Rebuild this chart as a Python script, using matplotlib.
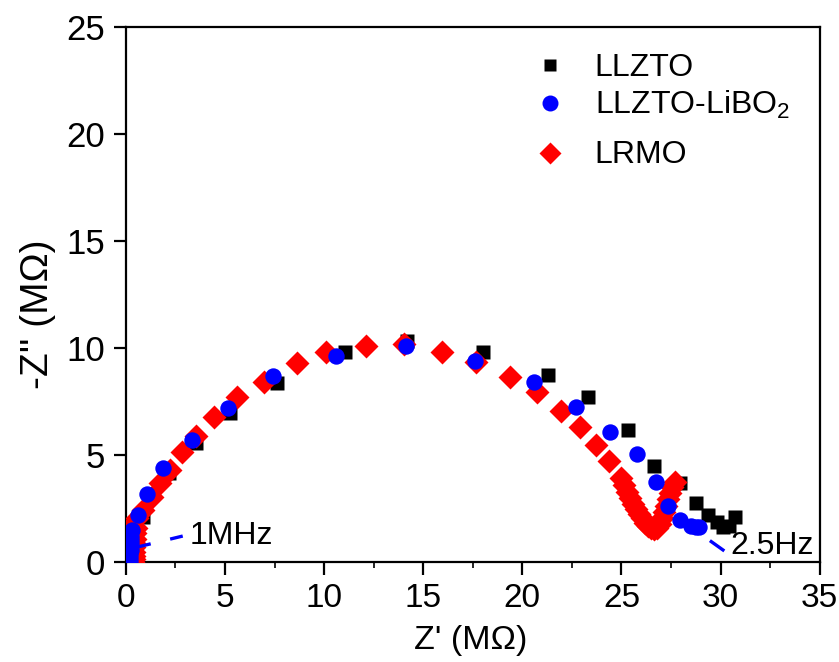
import matplotlib
matplotlib.use("Agg")
import matplotlib.pyplot as plt

plt.rcParams['font.family'] = ['Liberation Sans', 'DejaVu Sans']
plt.rcParams['mathtext.fontset'] = 'custom'
plt.rcParams['mathtext.rm'] = 'Liberation Sans'
plt.rcParams['mathtext.it'] = 'Liberation Sans'

# ---- data (Z' in MOhm, -Z'' in MOhm) ----
llzto_x = [0.2, 0.25, 0.5, 0.85, 2.17, 3.53, 5.24, 7.6, 11.04, 14.19, 18.02, 21.3,
           23.31, 25.33, 26.64, 27.97, 28.78, 29.36, 29.8, 30.1, 30.42, 30.71]
llzto_y = [0.1, 0.6, 1.35, 2.1, 4.18, 5.58, 7.0, 8.37, 9.85, 10.36, 9.85, 8.76,
           7.74, 6.19, 4.5, 3.7, 2.76, 2.2, 1.88, 1.67, 1.68, 2.1]

libo_x = [0.22, 0.22, 0.23, 0.24, 0.25, 0.26, 0.27, 0.29, 0.59, 1.09, 1.88, 3.33, 5.13,
          7.43, 10.6, 14.15, 17.6, 20.57, 22.7, 24.44, 25.79, 26.73, 27.35, 27.95,
          28.5, 28.75, 28.9]
libo_y = [0.03, 0.2, 0.4, 0.6, 0.8, 1.0, 1.2, 1.5, 2.22, 3.2, 4.4, 5.72, 7.23,
          8.73, 9.65, 10.13, 9.43, 8.45, 7.25, 6.11, 5.07, 3.77, 2.64, 1.97,
          1.68, 1.64, 1.65]

lrmo_x = [0.38, 0.39, 0.4, 0.41, 0.42, 0.43, 0.45, 0.3, 0.48, 0.52, 0.54, 0.87, 1.3,
          1.71, 2.22, 2.81, 3.53, 4.44, 5.63, 6.98, 8.64, 10.12, 12.1, 14.02, 15.95,
          17.68, 19.36, 20.76, 21.96, 22.9, 23.7, 24.37, 25.0, 25.15, 25.3, 25.45,
          25.6, 25.75, 25.9, 26.05, 26.2, 26.35, 26.5, 26.65, 26.8, 26.95, 27.05,
          27.15, 27.25, 27.35, 27.45, 27.55, 27.7]
lrmo_y = [0.03, 0.15, 0.3, 0.5, 0.7, 0.9, 1.1, 1.75, 1.35, 1.6, 2.06, 2.45, 3.07,
          3.7, 4.32, 5.17, 5.91, 6.78, 7.74, 8.45, 9.3, 9.85, 10.11, 10.2, 9.85,
          9.35, 8.68, 7.98, 7.09, 6.34, 5.49, 4.74, 3.95, 3.6, 3.3, 3.0,
          2.75, 2.5, 2.25, 2.05, 1.85, 1.7, 1.6, 1.55, 1.6, 1.8, 2.05,
          2.35, 2.65, 2.95, 3.25, 3.5, 3.75]

labels = ['LLZTO', 'LLZTO-LiBO$_2$', 'LRMO']
xticks = [0, 5, 10, 15, 20, 25, 30, 35]
yticks = [0, 5, 10, 15, 20, 25]

fig = plt.figure(figsize=(8.39, 6.62), dpi=100)
ax = fig.add_axes([0.150, 0.1505, 0.827, 0.8083])

ax.plot(llzto_x, llzto_y, 's', color='black', ms=10.3, mec='none', zorder=2)
ax.plot(lrmo_x, lrmo_y, 'D', color='#ff0000', ms=12.5, mec='none', zorder=3)
ax.plot(libo_x, libo_y, 'o', color='#0000ff', ms=11.8, mec='none', zorder=4)

# frequency annotations
ax.plot([0.6, 2.87], [0.72, 1.23], color='#0000ff', lw=2.4, dashes=(4, 6), zorder=5)
ax.text(3.2, 1.22, '1MHz', fontsize=23, va='center', ha='left')
ax.plot([29.53, 30.12], [0.97, 0.58], color='#0000ff', lw=2.4, zorder=5)
ax.text(30.5, 0.78, '2.5Hz', fontsize=23, va='center', ha='left')

ax.set_xlim(0, 35)
ax.set_ylim(0, 25)
ax.set_xticks(xticks)
ax.set_yticks(yticks)
ax.set_xticks([2.5 + 5 * i for i in range(7)], minor=True)
ax.tick_params(axis='both', which='major', direction='out', length=9, width=1.6)
ax.tick_params(axis='x', which='major', labelsize=24, pad=6)
ax.tick_params(axis='y', which='major', labelsize=25, pad=6)
ax.tick_params(axis='x', which='minor', direction='out', length=4, width=1.2)
for s in ax.spines.values():
    s.set_linewidth(1.6)

fig.text(471 / 839, 1 - 640 / 662, "Z' (M\u03a9)", fontsize=24.5, ha='center', va='center')
fig.text(38 / 839, 1 - 314 / 662, "-Z'' (M\u03a9)", fontsize=28, ha='center',
         va='center', rotation=90)

# legend drawn manually (marker + text) in axes coordinates
leg_marker = ['s', 'o', 'D']
leg_color = ['black', '#0000ff', '#ff0000']
leg_ms = [8.5, 11.5, 11]
leg_row_y = [0.9295, 0.8585, 0.765]
leg_base_y = [0.9082, 0.8372, 0.7457]
for m, c, ms, ym, yb, lab in zip(leg_marker, leg_color, leg_ms, leg_row_y, leg_base_y, labels):
    ax.plot([0.611], [ym], m, color=c, ms=ms, mec='none', transform=ax.transAxes,
            clip_on=False, zorder=6)
    ax.text(0.6758, yb, lab, fontsize=23, ha='left', va='baseline', transform=ax.transAxes)

fig.savefig('out.png', dpi=100)
